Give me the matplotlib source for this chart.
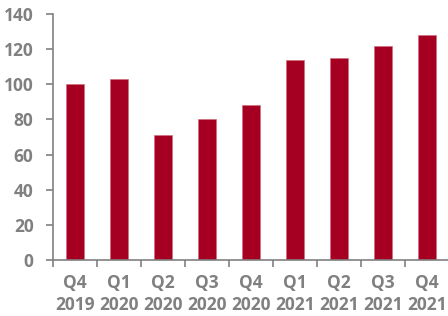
import numpy as np
import matplotlib.pyplot as plt

quarters = ['Q4\n2019', 'Q1\n2020', 'Q2\n2020', 'Q3\n2020', 'Q4\n2020',
            'Q1\n2021', 'Q2\n2021', 'Q3\n2021', 'Q4\n2021']
values = [100, 103, 71, 80, 88, 114, 115, 122, 128]

bar_color = '#A50021'
grey = '#808080'

plt.rcParams['font.family'] = ['Open Sans', 'DejaVu Sans']

fig = plt.figure(figsize=(4.48, 3.16), dpi=100)
ax = fig.add_axes([53 / 448, 56 / 316, 396 / 448, 246 / 316])

x = np.arange(len(values))
ax.bar(x, values, width=0.4, color=bar_color, edgecolor='#D07080', linewidth=0.5)

ax.set_xlim(-0.5, len(values) - 0.5)
ax.set_ylim(0, 140)
ax.set_yticks(range(0, 141, 20))

# category labels without ticks, ticks between categories
ax.set_xticks(x)
ax.set_xticklabels(quarters)
ax.set_xticks(np.arange(-0.5, len(values), 1), minor=True)
ax.tick_params(axis='x', which='major', length=0, pad=10)
ax.tick_params(axis='x', which='minor', length=5, width=1.2, color=grey)
ax.tick_params(axis='y', length=5, width=1.2, color=grey, pad=9)

for lab in ax.get_xticklabels() + ax.get_yticklabels():
    lab.set_fontsize(12.5)
    lab.set_fontweight('bold')
    lab.set_color(grey)
for lab in ax.get_xticklabels():
    lab.set_linespacing(1.3)

for s in ['top', 'right']:
    ax.spines[s].set_visible(False)
for s in ['left', 'bottom']:
    ax.spines[s].set_color(grey)
    ax.spines[s].set_linewidth(1.2)

fig.savefig('out.png', dpi=100)
